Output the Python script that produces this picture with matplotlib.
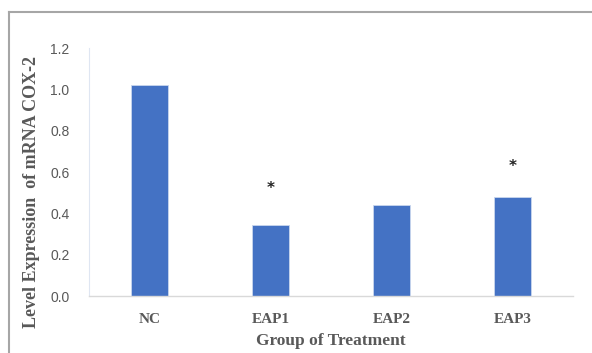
import matplotlib
matplotlib.use("Agg")
import matplotlib.pyplot as plt
from matplotlib.lines import Line2D

categories = ["NC", "EAP1", "EAP2", "EAP3"]
values = [1.02, 0.342, 0.439, 0.477]
star_labels = ["", "*", "", "*"]
star_y = [None, 0.52, None, 0.625]
yticks = [0.0, 0.2, 0.4, 0.6, 0.8, 1.0, 1.2]

fig = plt.figure(figsize=(5.92, 3.53), dpi=100)
ax = fig.add_axes([89/592, 1-296/353, (573-89)/592, (296-48)/353])

x = list(range(len(categories)))
ax.bar(x, values, width=0.31, color="#4472C4", edgecolor="#c9d6ee", linewidth=0.6, zorder=2)
for xi, lab, sy in zip(x, star_labels, star_y):
    if lab:
        ax.text(xi, sy, lab, ha="center", va="center", fontsize=11, color="#222222",
                family="DejaVu Sans", fontweight="bold")

ax.set_xlim(-0.5, 3.5)
ax.set_ylim(0, 1.2)
ax.set_yticks(yticks)
ax.set_yticklabels([f"{v:.1f}" for v in yticks], family="Liberation Sans", fontsize=10, color="#595959")
ax.set_xticks(x)
ax.set_xticklabels(categories, family="Liberation Serif", fontweight="bold", fontsize=11, color="#595959")
ax.tick_params(axis="y", length=0, pad=14)
ax.tick_params(axis="x", length=0, pad=12)

for s in ["top", "right"]:
    ax.spines[s].set_visible(False)
ax.spines["left"].set_color("#dfe6f2")
ax.spines["left"].set_linewidth(0.8)
ax.spines["bottom"].set_color("#d9d9d9")
ax.spines["bottom"].set_linewidth(1.0)

ax.set_xlabel("Group of Treatment", family="Liberation Serif", fontweight="bold",
              fontsize=12.5, color="#595959", labelpad=5)
fig.text(32/592, 1-192/353, "Level Expression  of mRNA COX-2", rotation=90,
         ha="center", va="center", family="Liberation Serif", fontweight="bold",
         fontsize=13, color="#595959")

# outer frame (top and left only)
fig.add_artist(Line2D([9/592, 9/592], [0, 1-12/353], transform=fig.transFigure, color="#a6a6a6", lw=1.5))
fig.add_artist(Line2D([9/592, 1], [1-12/353, 1-12/353], transform=fig.transFigure, color="#a6a6a6", lw=1.5))

fig.savefig("out.png", dpi=100)
